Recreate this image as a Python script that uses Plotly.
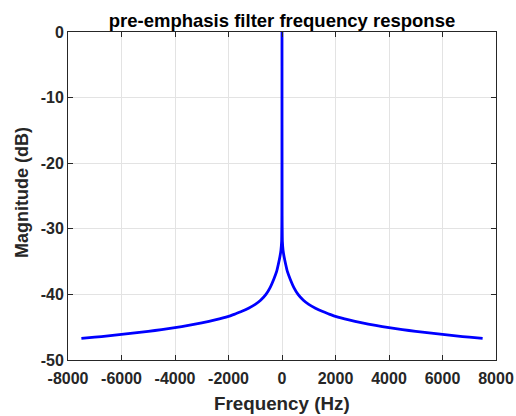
import plotly.graph_objects as go

freq_hz = [-7500, -7000, -6500, -6000, -5500, -5000, -4500, -4000, -3500, -3000,
           -2500, -2000, -1750, -1500, -1250, -1000, -800, -600, -450, -300, -200,
           -137, -80, -40, -15, -4, 0, 4, 15, 40, 80, 137, 200, 300, 450, 600, 800,
           1000, 1250, 1500, 1750, 2000, 2500, 3000, 3500, 4000, 4500, 5000, 5500,
           6000, 6500, 7000, 7500]
magnitude_db = [-46.72, -46.52, -46.32, -46.1, -45.87, -45.63, -45.37, -45.07, -44.73, -44.35,
                -43.9, -43.35, -42.98, -42.58, -42.1, -41.52, -40.9, -40.0, -39.0, -37.6, -36.5,
                -35.4, -34.3, -33.3, -32.0, -28.0, 0.0, -28.0, -32.0, -33.3, -34.3, -35.4, -36.5,
                -37.6, -39.0, -40.0, -40.9, -41.52, -42.1, -42.58, -42.98, -43.35, -43.9, -44.35,
                -44.73, -45.07, -45.37, -45.63, -45.87, -46.1, -46.32, -46.52, -46.72]

x_ticks = [-8000, -6000, -4000, -2000, 0, 2000, 4000, 6000, 8000]
y_ticks = [-50, -40, -30, -20, -10, 0]

FONT = "Liberation Sans, Arial, sans-serif"

fig = go.Figure()
fig.add_trace(go.Scatter(x=freq_hz, y=magnitude_db, mode="lines",
                         line=dict(color="#0000FF", width=2.8, shape="spline", smoothing=0.6),
                         showlegend=False))

axis_common = dict(
    showgrid=True, gridcolor="#E3E3E3", gridwidth=1,
    showline=True, linecolor="#262626", linewidth=1, mirror="ticks",
    ticks="inside", ticklen=5, tickcolor="#262626", tickwidth=1,
    zeroline=False, automargin=False,
    tickfont=dict(family=FONT, size=16, color="#262626"),
)

fig.update_layout(
    width=516, height=416,
    margin=dict(l=68, r=20, t=32, b=56),
    paper_bgcolor="white", plot_bgcolor="white",
    title=dict(text="<b>pre-emphasis filter frequency response</b>",
               font=dict(family=FONT, size=18.5, color="black"),
               x=0.5, xanchor="center", xref="paper", y=1, yref="paper",
               yanchor="bottom", pad=dict(b=5)),
    xaxis=dict(range=[-8000, 8000], tickvals=x_ticks,
               ticktext=[f"<b>{v}</b>" for v in x_ticks],
               ticklabelstandoff=4,
               **axis_common),
    yaxis=dict(range=[-50, 0], tickvals=y_ticks,
               ticktext=[f"<b>{v}</b>" for v in y_ticks],
               **axis_common),
    annotations=[
        dict(text="<b>Frequency (Hz)</b>", xref="paper", yref="paper",
             x=0.5, y=-0.134, xanchor="center", yanchor="middle", showarrow=False,
             font=dict(family=FONT, size=18.8, color="#262626")),
        dict(text="<b>Magnitude (dB)</b>", xref="paper", yref="paper",
             x=-0.107, y=0.51, xanchor="center", yanchor="middle", showarrow=False,
             textangle=-90, font=dict(family=FONT, size=18, color="#262626")),
    ],
)

fig.write_html("out.html")
